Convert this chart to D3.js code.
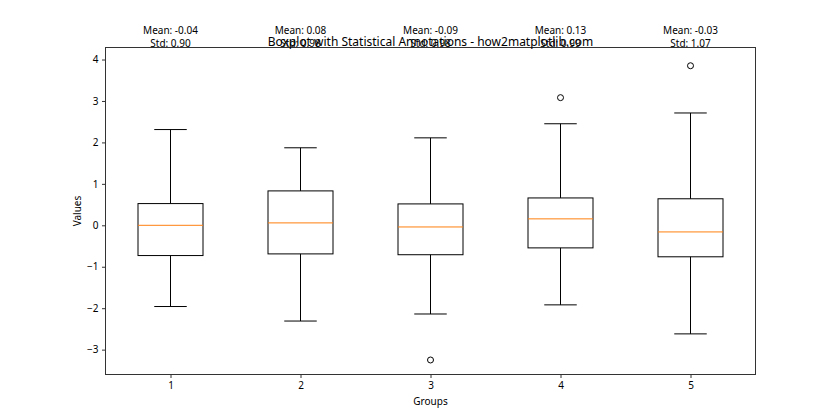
<!DOCTYPE html>
<html><head><meta charset="utf-8">
<script src="https://cdn.jsdelivr.net/npm/d3@7"></script>
<style>body{margin:0;background:#fff}svg{display:block}text{font-family:"Noto Sans",sans-serif;fill:#000}</style>
</head><body><svg id="c" width="840" height="420"></svg>
<script>
const groups = [1, 2, 3, 4, 5];
const whiskerLow = [-1.96, -2.31, -2.14, -1.92, -2.62];
const q1 = [-0.73, -0.69, -0.71, -0.545, -0.76];
const medians = [0.0, 0.058, -0.04, 0.155, -0.16];
const q3 = [0.524, 0.83, 0.516, 0.66, 0.64];
const whiskerHigh = [2.31, 1.87, 2.11, 2.45, 2.71];
const outliers = [[], [], [-3.25], [3.08], [3.85]];
const means = ["-0.04", "0.08", "-0.09", "0.13", "-0.03"];
const stds = ["0.90", "0.98", "0.98", "0.99", "1.07"];
const yTicks = [-3, -2, -1, 0, 1, 2, 3, 4];
const title = "Boxplot with Statistical Annotations - how2matplotlib.com";

const svg = d3.select("#c");
const L = 105.5, R = 755.5, T = 47.5, B = 374.5;
const x = d3.scaleLinear().domain([0.5, 5.5]).range([L, R]);
const y = d3.scaleLinear().domain([-3.6, 4.29]).range([B, T]);

const g = svg.append("g");
groups.forEach((grp, i) => {
  const cx = x(grp);
  const hw = x(0.25) - x(0);
  const cw = x(0.125) - x(0);
  const line = (x1, y1, x2, y2, c) => g.append("line").attr("x1", x1).attr("y1", y1).attr("x2", x2).attr("y2", y2).attr("stroke", c || "#000").attr("stroke-width", 1);
  line(cx, y(q3[i]), cx, y(whiskerHigh[i]));
  line(cx, y(q1[i]), cx, y(whiskerLow[i]));
  line(cx - cw, y(whiskerHigh[i]), cx + cw, y(whiskerHigh[i]));
  line(cx - cw, y(whiskerLow[i]), cx + cw, y(whiskerLow[i]));
  g.append("rect").attr("x", cx - hw).attr("y", y(q3[i])).attr("width", 2 * hw).attr("height", y(q1[i]) - y(q3[i]))
    .attr("fill", "none").attr("stroke", "#000").attr("stroke-width", 1);
  line(cx - hw, y(medians[i]), cx + hw, y(medians[i]), "#ff7f0e");
  outliers[i].forEach(o => g.append("circle").attr("cx", cx).attr("cy", y(o)).attr("r", 3)
    .attr("fill", "none").attr("stroke", "#000").attr("stroke-width", 1));
});

const yAxis = svg.append("g").attr("transform", `translate(${L},0)`)
  .call(d3.axisLeft(y).tickValues(yTicks).tickSize(3.5).tickPadding(3.5).tickFormat(d3.format("d")));
const xAxis = svg.append("g").attr("transform", `translate(0,${B})`)
  .call(d3.axisBottom(x).tickValues(groups).tickSize(3.5).tickPadding(3.5).tickFormat(d3.format("d")));
[yAxis, xAxis].forEach(a => { a.select(".domain").remove(); a.selectAll("text").style("font-size", "10px").attr("fill", "#000"); a.selectAll("line").attr("stroke", "#333"); });

svg.append("rect").attr("x", L).attr("y", T).attr("width", R - L).attr("height", B - T)
  .attr("fill", "none").attr("stroke", "#333").attr("stroke-width", 1);

svg.append("text").attr("x", (L + R) / 2).attr("y", 46).attr("text-anchor", "middle")
  .style("font-size", "12px").text(title);

groups.forEach((grp, i) => {
  const t = svg.append("text").attr("x", x(grp)).attr("text-anchor", "middle").style("font-size", "10px");
  t.append("tspan").attr("x", x(grp)).attr("y", 34).text("Mean: " + means[i]);
  t.append("tspan").attr("x", x(grp)).attr("y", 47).text("Std: " + stds[i]);
});

svg.append("text").attr("x", (L + R) / 2).attr("y", 405).attr("text-anchor", "middle").style("font-size", "10px").text("Groups");
svg.append("text").attr("transform", `translate(81,${(T + B) / 2}) rotate(-90)`).attr("text-anchor", "middle").style("font-size", "10px").text("Values");
</script></body></html>
